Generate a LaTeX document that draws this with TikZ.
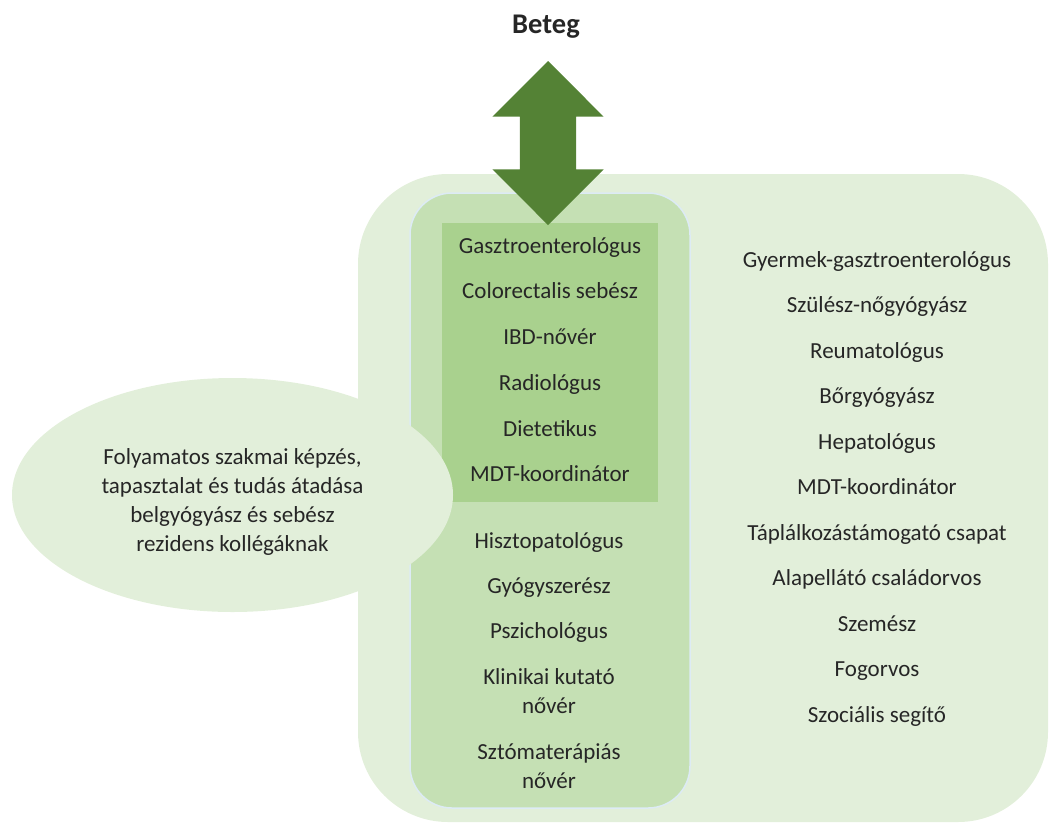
\documentclass[tikz,border=0pt]{standalone}
\usepackage{fontspec}
\setmainfont{Carlito}
\usetikzlibrary{positioning,shapes.geometric,shapes.arrows}
\definecolor{cHalo}{HTML}{E2EFDA}
\definecolor{cTeam}{HTML}{C5E0B4}
\definecolor{cCore}{HTML}{A9D18E}
\definecolor{cArrow}{HTML}{548235}
\definecolor{cRim}{HTML}{DDEBF5}
\definecolor{cInk}{HTML}{262626}
\tikzset{
  panel/.style={rectangle, inner sep=0pt, draw=none},
  halo/.style={panel, fill=cHalo, rounded corners=90pt},
  team/.style={panel, fill=cTeam, draw=cRim, line width=1.5pt, rounded corners=42pt},
  core/.style={panel, fill=cCore},
  role/.style={font=\fontsize{23}{29}\selectfont, text=cInk, align=center,
               inner sep=0pt, anchor=base},
  idea/.style={ellipse, fill=cHalo, inner sep=0pt, align=center, text=cInk,
               font=\fontsize{23}{29}\selectfont, text height=112pt, text depth=0pt},
  bigar/.style={double arrow, fill=cArrow, rotate=90, inner xsep=0pt, inner ysep=28pt,
                double arrow head extend=27.5pt, double arrow tip angle=90},
}

\begin{document}
\begin{tikzpicture}[x=1pt,y=-1pt]
  \useasboundingbox (0,0) rectangle (1049,823);

  % boxes
  \node[halo, minimum width=690pt, minimum height=648pt] (halo) at (703,498) {};
  \node[team, minimum width=280pt, minimum height=615pt] (team) at (550,500.5) {};
  \node[core, minimum width=216pt, minimum height=279pt] (core) at (550,362.5) {};

  \node[idea, minimum width=441pt, minimum height=234pt] (kepzes) at (232.5,495)
    {Folyamatos szakmai képzés,\\ tapasztalat és tudás átadása\\
     belgyógyász és sebész\\ rezidens kollégáknak};

  \node[role, font=\fontsize{28.5}{34}\selectfont\bfseries] (beteg) at (546,33) {Beteg};
  \node[bigar, minimum height=164pt] (nyil) at (548,143) {};

  % core team
  \node[role] (gaszt) at (550,253) {Gasztroenterológus};
  \node[role] (seb) at (550,298.5) {Colorectalis sebész};
  \node[role] (ibd) at (550,344) {IBD-nővér};
  \node[role] (rad) at (550,390) {Radiológus};
  \node[role] (diet) at (550,436) {Dietetikus};
  \node[role] (mdt) at (550,481) {MDT-koordinátor};

  \node[role] (hiszt) at (549,548) {Hisztopatológus};
  \node[role] (gyogy) at (549,593) {Gyógyszerész};
  \node[role] (pszich) at (549,638) {Pszichológus};
  \node[role] (kutato) at (549,713) {Klinikai kutató\\ nővér};
  \node[role] (sztoma) at (549,788) {Sztómaterápiás\\ nővér};

  % extended team
  \node[role] (gyermek) at (877,267) {Gyermek-gasztroenterológus};
  \node[role] (szulesz) at (877,312.5) {Szülész-nőgyógyász};
  \node[role] (reuma) at (877,358) {Reumatológus};
  \node[role] (bor) at (877,403.5) {Bőrgyógyász};
  \node[role] (hepat) at (877,449) {Hepatológus};
  \node[role] (mdtk) at (877,494.5) {MDT-koordinátor};
  \node[role] (taplal) at (877,540) {Táplálkozástámogató csapat};
  \node[role] (alap) at (877,585.5) {Alapellátó családorvos};
  \node[role] (szem) at (877,631) {Szemész};
  \node[role] (fog) at (877,676.5) {Fogorvos};
  \node[role] (szoc) at (877,722) {Szociális segítő};
\end{tikzpicture}
\end{document}
